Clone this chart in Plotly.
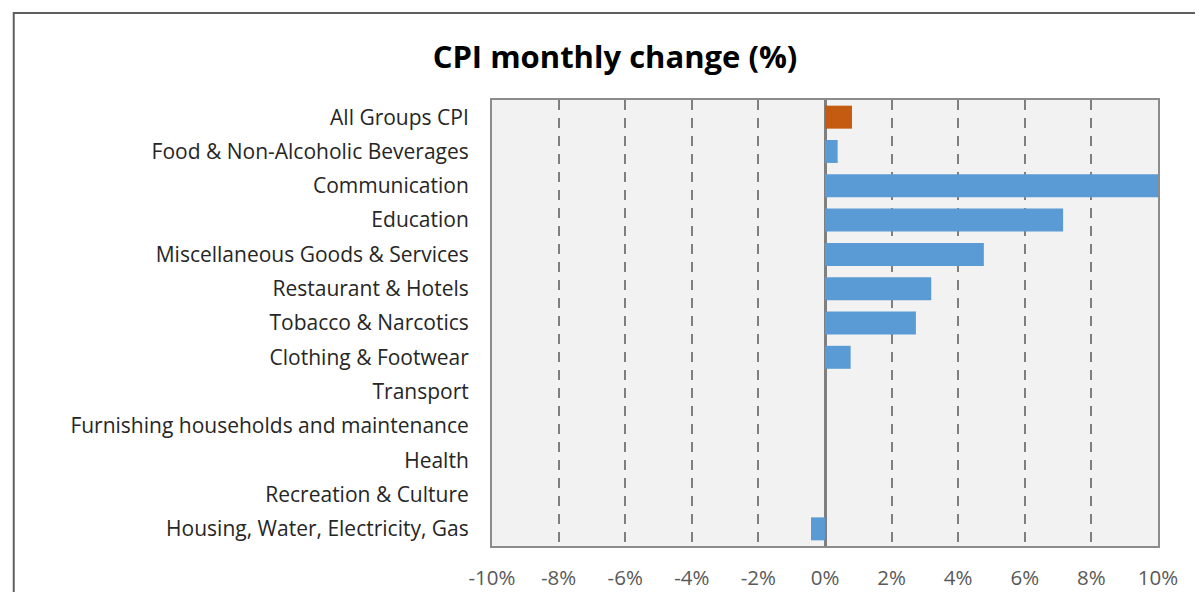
import plotly.graph_objects as go

categories = [
    "All Groups CPI",
    "Food & Non-Alcoholic Beverages",
    "Communication",
    "Education",
    "Miscellaneous Goods & Services",
    "Restaurant & Hotels",
    "Tobacco & Narcotics",
    "Clothing & Footwear",
    "Transport",
    "Furnishing households and maintenance",
    "Health",
    "Recreation & Culture",
    "Housing, Water, Electricity, Gas",
]
values = [0.81, 0.38, 10.0, 7.15, 4.77, 3.19, 2.73, 0.77, 0.0, 0.0, 0.0, 0.0, -0.42]
colors = ["#c55a11"] + ["#5b9bd5"] * (len(categories) - 1)
tick_vals = [-10, -8, -6, -4, -2, 0, 2, 4, 6, 8, 10]
tick_text = ["-10%", "-8%", "-6%", "-4%", "-2%", "0%", "2%", "4%", "6%", "8%", "10%"]

OFF = 8  # default page body margin
W, H = 1203 - OFF, 592 - OFF
L, R, T, B = 491.7 - OFF, 1158.3 - OFF, 100 - OFF, 546 - OFF

FONT = "'Open Sans', Lato, sans-serif"

fig = go.Figure(go.Bar(
    y=categories, x=values, orientation="h",
    marker=dict(color=colors, line=dict(width=0)),
    hoverinfo="x+y",
))

fig.update_layout(
    width=W, height=H,
    margin=dict(l=L, r=W - R, t=T, b=H - B, pad=0, autoexpand=False),
    paper_bgcolor="white",
    plot_bgcolor="#f2f2f2",
    bargap=0.33,
    showlegend=False,
    font=dict(family=FONT, color="#262626"),
    title=dict(
        text="<b>CPI monthly change (%)</b>",
        x=(615 - OFF) / W, xanchor="center",
        y=1 - (57 - OFF) / H, yanchor="middle",
        font=dict(size=31, color="#000000", family=FONT),
    ),
    xaxis=dict(
        range=[-10, 10],
        tickvals=tick_vals, ticktext=tick_text,
        tickfont=dict(size=20.5, color="#595959"),
        showgrid=True, gridcolor="#7f7f7f", gridwidth=2, griddash="10px,8px",
        zeroline=True, zerolinecolor="#7f7f7f", zerolinewidth=3,
        showline=True, linecolor="#8c8c8c", linewidth=2, mirror=True,
        ticks="", ticklabelstandoff=12,
        automargin=False,
        fixedrange=True,
    ),
    yaxis=dict(
        categoryorder="array", categoryarray=categories,
        autorange="reversed",
        tickfont=dict(size=21, color="#262626"),
        showgrid=False,
        showline=True, linecolor="#8c8c8c", linewidth=2, mirror=True,
        ticks="", ticklabelstandoff=17,
        automargin=False,
        fixedrange=True,
    ),
)

pw, ph = R - L, B - T
def px_x(px):
    return (px - OFF - L) / pw
def px_y(py):
    return (B - (py - OFF)) / ph

fig.add_shape(
    type="rect", xref="paper", yref="paper",
    x0=px_x(13), x1=px_x(1260), y0=px_y(13), y1=px_y(640),
    line=dict(color="#5f5f5f", width=2), fillcolor="rgba(0,0,0,0)", layer="below",
)

fig.write_html("out.html")
